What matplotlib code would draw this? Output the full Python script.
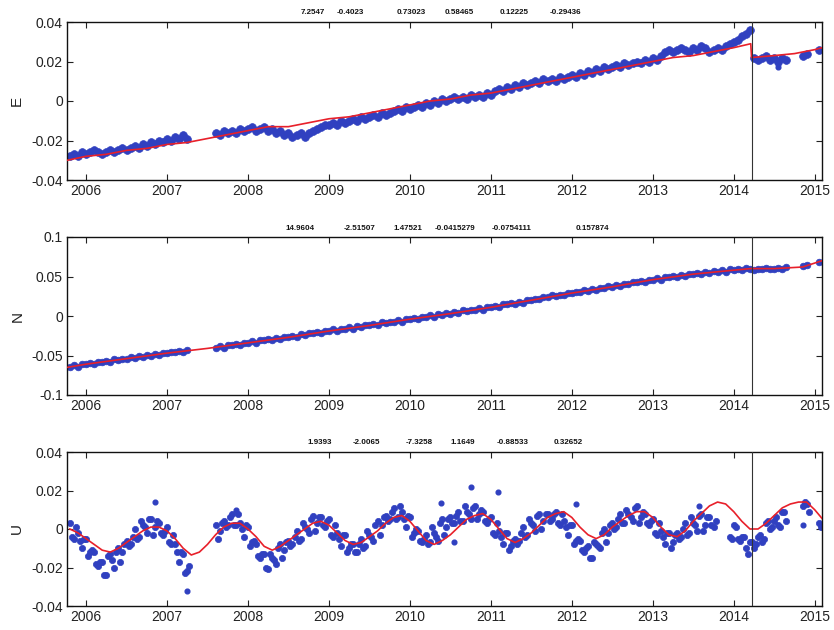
import numpy as np
import matplotlib
matplotlib.use("Agg")
import matplotlib.pyplot as plt
from matplotlib.ticker import FuncFormatter

nan = np.nan

# ---------------- data ----------------
obs_start = 2005.80
obs_step = 0.05
up_b_start = 2005.825
jump_epoch = 2014.22
years = list(range(2006, 2016))

east_obs = [
    -0.028, -0.027, -0.028, -0.026, -0.027, -0.026, -0.025, -0.026, -0.027, -0.026,
    -0.025, -0.026, -0.025, -0.024, -0.025, -0.024, -0.023, -0.024, -0.022, -0.023,
    -0.021, -0.022, -0.020, -0.021, -0.019, -0.020, -0.018, -0.019, -0.017, -0.019,
    nan, nan, nan, nan, nan, nan, -0.016, -0.017, -0.015, -0.016,
    -0.015, -0.016, -0.014, -0.015, -0.014, -0.013, -0.015, -0.014, -0.013, -0.015,
    -0.014, -0.016, -0.015, -0.017, -0.016, -0.018, -0.017, -0.016, -0.018, -0.016,
    -0.015, -0.014, -0.013, -0.012, -0.012, -0.011, -0.012, -0.010, -0.011, -0.010,
    -0.009, -0.010, -0.008, -0.009, -0.008, -0.007, -0.008, -0.006, -0.007, -0.006,
    -0.005, -0.004, -0.005, -0.003, -0.004, -0.003, -0.002, -0.003, -0.001, -0.002,
    0.000, -0.001, 0.001, 0.000, 0.001, 0.002, 0.001, 0.002, 0.001, 0.003,
    0.002, 0.003, 0.002, 0.004, 0.003, 0.005, 0.006, 0.005, 0.007, 0.006,
    0.008, 0.007, 0.009, 0.008, 0.009, 0.010, 0.009, 0.011, 0.010, 0.011,
    0.010, 0.012, 0.011, 0.012, 0.013, 0.012, 0.014, 0.013, 0.015, 0.014,
    0.016, 0.015, 0.017, 0.016, 0.017, 0.018, 0.017, 0.019, 0.018, 0.019,
    0.020, 0.019, 0.021, 0.020, 0.022, 0.021, 0.023, 0.025, 0.026, 0.025,
    0.026, 0.027, 0.026, 0.025, 0.027, 0.026, 0.028, 0.027, 0.025, 0.026,
    0.027, 0.026, 0.028, 0.029, 0.030, 0.031, 0.033, 0.034, 0.036, 0.022,
    0.021, 0.022, 0.023, 0.021, 0.022, 0.020, 0.022, 0.021, nan, nan,
    nan, 0.023, 0.024, nan, nan, 0.026,
]

north_obs = [
    -0.064, -0.062, -0.064, -0.061, -0.061, -0.059, -0.061, -0.058, -0.058, -0.057,
    -0.058, -0.055, -0.056, -0.054, -0.054, -0.052, -0.053, -0.051, -0.052, -0.049,
    -0.050, -0.048, -0.049, -0.047, -0.047, -0.045, -0.046, -0.044, -0.045, -0.043,
    nan, nan, nan, nan, nan, nan, -0.040, -0.038, -0.040, -0.037,
    -0.037, -0.035, -0.037, -0.034, -0.034, -0.032, -0.034, -0.031, -0.031, -0.029,
    -0.031, -0.028, -0.029, -0.026, -0.027, -0.025, -0.026, -0.023, -0.024, -0.022,
    -0.022, -0.020, -0.022, -0.019, -0.019, -0.017, -0.019, -0.016, -0.016, -0.014,
    -0.016, -0.013, -0.014, -0.011, -0.012, -0.010, -0.011, -0.008, -0.009, -0.007,
    -0.007, -0.005, -0.007, -0.004, -0.004, -0.002, -0.004, -0.001, -0.001, 0.001,
    -0.001, 0.002, 0.001, 0.004, 0.003, 0.005, 0.004, 0.007, 0.006, 0.008,
    0.008, 0.010, 0.008, 0.011, 0.011, 0.013, 0.012, 0.015, 0.015, 0.017,
    0.015, 0.018, 0.017, 0.020, 0.020, 0.022, 0.021, 0.024, 0.024, 0.026,
    0.025, 0.027, 0.026, 0.029, 0.029, 0.031, 0.030, 0.033, 0.032, 0.034,
    0.033, 0.036, 0.035, 0.038, 0.037, 0.039, 0.038, 0.041, 0.041, 0.043,
    0.043, 0.044, 0.043, 0.046, 0.046, 0.048, 0.046, 0.049, 0.049, 0.051,
    0.049, 0.052, 0.051, 0.053, 0.053, 0.055, 0.053, 0.056, 0.055, 0.057,
    0.056, 0.058, 0.056, 0.059, 0.058, 0.060, 0.058, 0.061, 0.060, 0.058,
    0.060, 0.059, 0.061, 0.060, 0.059, 0.061, 0.060, 0.062, nan, nan,
    nan, 0.063, 0.064, nan, nan, 0.068,
]

up_obs = [
    0.003, -0.005, -0.002, -0.010, -0.005, -0.012, -0.012, -0.019, -0.017, -0.024,
    -0.013, -0.020, -0.010, -0.012, -0.006, -0.008, 0.000, -0.004, 0.002, -0.002,
    0.005, 0.001, 0.003, -0.003, 0.001, -0.008, -0.008, -0.017, -0.013, -0.022,
    nan, nan, nan, nan, nan, nan, 0.002, -0.001, 0.004, 0.002,
    0.008, 0.002, 0.003, -0.004, 0.001, -0.007, -0.008, -0.015, -0.013, -0.021,
    -0.015, -0.018, -0.008, -0.011, -0.006, -0.008, -0.001, -0.005, 0.001, -0.002,
    0.007, 0.003, 0.006, 0.001, 0.005, -0.004, -0.002, -0.009, -0.003, -0.010,
    -0.008, -0.012, -0.005, -0.009, -0.003, -0.006, 0.004, 0.002, 0.007, 0.005,
    0.011, 0.006, 0.009, 0.001, 0.006, -0.002, -0.001, -0.007, -0.003, -0.007,
    -0.002, -0.006, 0.005, 0.001, 0.006, 0.003, 0.009, 0.004, 0.009, 0.005,
    0.012, 0.008, 0.009, 0.003, 0.006, -0.003, -0.001, -0.008, -0.002, -0.009,
    -0.005, -0.006, 0.001, -0.003, 0.003, -0.001, 0.008, 0.004, 0.008, 0.005,
    0.009, 0.002, 0.004, -0.003, 0.002, -0.006, -0.006, -0.012, -0.009, -0.015,
    -0.008, -0.010, 0.000, -0.002, 0.003, 0.001, 0.008, 0.003, 0.008, 0.004,
    0.012, 0.006, 0.008, 0.002, 0.005, -0.003, -0.001, -0.008, -0.002, -0.007,
    -0.002, -0.004, 0.003, -0.002, 0.003, -0.001, 0.008, 0.002, 0.006, 0.001,
    nan, nan, nan, -0.004, 0.002, -0.005, -0.004, -0.010, -0.007, -0.010,
    -0.004, -0.007, 0.003, 0.000, 0.004, 0.002, 0.009, 0.004, nan, nan,
    nan, 0.012, 0.013, nan, nan, 0.003,
]

# second set of Up observations, sampled half a step later
up_obs_b = [
    -0.004, 0.001, -0.006, -0.005, -0.014, -0.011, -0.018, -0.017, -0.024, -0.014,
    -0.016, -0.012, -0.017, -0.008, -0.009, -0.004, -0.005, 0.004, 0.001, 0.005,
    -0.003, 0.004, -0.002, -0.001, -0.007, -0.003, -0.012, -0.012, -0.023, -0.019,
    nan, nan, nan, nan, nan, nan, -0.005, 0.003, 0.001, 0.006,
    0.002, 0.008, 0.000, 0.002, -0.009, -0.006, -0.014, -0.013, -0.020, -0.013,
    -0.016, -0.010, -0.015, -0.007, -0.009, -0.004, -0.006, 0.003, 0.000, 0.005,
    -0.001, 0.006, 0.002, 0.004, -0.003, 0.002, -0.005, -0.003, -0.012, -0.008,
    -0.012, -0.008, -0.010, -0.001, -0.004, 0.002, -0.003, 0.006, 0.004, 0.009,
    0.005, 0.012, 0.005, 0.007, -0.004, 0.000, -0.006, -0.005, -0.008, 0.001,
    -0.004, 0.003, -0.003, 0.005, 0.003, 0.007, 0.004, 0.012, 0.008, 0.011,
    0.005, 0.010, 0.004, 0.005, -0.002, 0.003, -0.004, -0.002, -0.011, -0.006,
    -0.008, -0.002, -0.004, 0.005, 0.002, 0.007, 0.000, 0.008, 0.004, 0.008,
    0.003, 0.008, 0.001, 0.002, -0.008, -0.005, -0.011, -0.010, -0.015, -0.007,
    -0.009, -0.002, -0.007, 0.002, 0.000, 0.005, 0.003, 0.010, 0.006, 0.011,
    0.003, 0.009, 0.003, 0.004, -0.002, 0.003, -0.004, -0.002, -0.010, -0.003,
    -0.005, 0.000, -0.003, 0.006, 0.002, 0.007, -0.001, 0.006, 0.002, 0.004,
    nan, nan, nan, -0.005, 0.001, -0.006, -0.004, -0.013, -0.007, -0.008,
    -0.003, -0.005, 0.004, 0.001, 0.006, 0.001, 0.009, nan, nan, nan,
    nan, 0.014, 0.009, nan, nan, 0.001,
]

east_outlier_t = [2014.55]
east_outlier_v = [0.017]
up_outlier_t = [2006.85, 2007.25, 2007.85, 2010.38, 2010.54, 2010.75, 2011.09, 2012.05, 2013.57, 2014.86]
up_outlier_v = [0.014, -0.032, 0.010, 0.0135, -0.007, 0.022, 0.019, 0.013, 0.012, 0.002]

east_fit_t = [2005.77, 2006.0, 2006.25, 2006.5, 2006.75, 2007.0, 2007.25, 2007.5, 2007.75, 2008.0,
              2008.25, 2008.5, 2008.75, 2009.0, 2009.25, 2009.5, 2009.75, 2010.0, 2010.25, 2010.5,
              2010.75, 2011.0, 2011.25, 2011.5, 2011.75, 2012.0, 2012.25, 2012.5, 2012.75, 2013.0,
              2013.25, 2013.5, 2013.75, 2014.0, 2014.21, 2014.22, 2014.5, 2014.75, 2015.0, 2015.09]
east_fit_v = [-0.030, -0.028, -0.027, -0.025, -0.024, -0.022, -0.021, -0.019, -0.017, -0.015,
              -0.013, -0.013, -0.011, -0.009, -0.008, -0.006, -0.004, -0.002, 0.000, 0.001,
              0.003, 0.004, 0.006, 0.008, 0.010, 0.012, 0.014, 0.016, 0.018, 0.020,
              0.022, 0.023, 0.025, 0.027, 0.029, 0.022, 0.023, 0.024, 0.026, 0.027]

north_fit_t = [2005.77, 2006.0, 2006.5, 2007.0, 2007.5, 2008.0, 2008.5, 2009.0, 2009.5, 2010.0,
               2010.5, 2011.0, 2011.5, 2012.0, 2012.5, 2013.0, 2013.5, 2014.0, 2014.21, 2014.5,
               2014.85, 2015.09]
north_fit_v = [-0.065, -0.061, -0.054, -0.047, -0.041, -0.034, -0.027, -0.019, -0.012, -0.004,
               0.003, 0.011, 0.020, 0.029, 0.037, 0.046, 0.053, 0.058, 0.060, 0.060,
               0.062, 0.070]

up_fit_start = 2005.8
up_fit_step = 0.1
up_fit_v = [
    0.000, -0.002,
    -0.005, -0.008, -0.011, -0.012, -0.010, -0.007, -0.004, -0.001, 0.001, 0.001,
    -0.001, -0.005, -0.010, -0.0135, -0.012, -0.008, -0.003, 0.001, 0.003, 0.003,
    0.000, -0.004, -0.009, -0.011, -0.009, -0.006, -0.003, 0.000, 0.003, 0.004,
    0.002, -0.002, -0.006, -0.008, -0.007, -0.004, -0.001, 0.003, 0.006, 0.007,
    0.004, -0.001, -0.006, -0.008, -0.006, -0.003, 0.001, 0.005, 0.007, 0.008,
    0.005, 0.000, -0.005, -0.007, -0.005, -0.002, 0.002, 0.006, 0.008, 0.009,
    0.006, 0.001, -0.003, -0.005, -0.003, 0.001, 0.004, 0.007, 0.009, 0.009,
    0.006, 0.001, -0.003, -0.004, -0.001, 0.004, 0.008, 0.012, 0.014, 0.013,
    0.009, 0.004, 0.000, 0.000, 0.003, 0.007, 0.011, 0.013, 0.014, 0.014,
    0.010, 0.005,
]

panel_labels = ["E", "N", "U"]
panel_ylims = [(-0.04, 0.04), (-0.1, 0.1), (-0.04, 0.04)]
panel_yticks = [[-0.04, -0.02, 0, 0.02, 0.04], [-0.1, -0.05, 0, 0.05, 0.1], [-0.04, -0.02, 0, 0.02, 0.04]]
panel_params = [
    ["7.2547", "-0.4023", "0.73023", "0.58465", "0.12225", "-0.29436"],
    ["14.9604", "-2.51507", "1.47521", "-0.0415279", "-0.0754111", "0.157874"],
    ["1.9393", "-2.0065", "-7.3258", "1.1649", "-0.88533", "0.32652"],
]
param_x_px = [
    [313, 350, 411, 459, 514, 566],
    [300, 360, 408, 455, 512, 592],
    [320, 366, 419, 463, 513, 568],
]

# ---------------- plot ----------------
W, H = 834, 630
fig = plt.figure(figsize=(W / 100, H / 100), dpi=100)
plt.rcParams['font.family'] = ['Liberation Sans', 'DejaVu Sans']

axes_px = [(22, 180), (237, 395), (452, 606)]
left_px, right_px = 67, 822
blue = '#3040c0'
red = '#e8202a'

obs_series = [[(obs_start, east_obs)],
              [(obs_start, north_obs)],
              [(obs_start, up_obs), (up_b_start, up_obs_b)]]
fits = [
    (east_fit_t, east_fit_v),
    (north_fit_t, north_fit_v),
    (list(up_fit_start + up_fit_step * np.arange(len(up_fit_v))), up_fit_v),
]
outliers = [(east_outlier_t, east_outlier_v), ([], []), (up_outlier_t, up_outlier_v)]
marker_sizes = [5.6, 4.8, 4.5]

for k in range(3):
    top, bot = axes_px[k]
    ax = fig.add_axes([left_px / W, 1 - bot / H, (right_px - left_px) / W, (bot - top) / H])
    for t0, series in obs_series[k]:
        vals = np.array(series, dtype=float)
        t = t0 + obs_step * np.arange(len(vals))
        ax.plot(t, vals, 'o', color=blue, ms=marker_sizes[k], mec=blue, mew=0.5, zorder=2)
    ot, ov = outliers[k]
    if ot:
        ax.plot(ot, ov, 'o', color=blue, ms=3.4, mec=blue, zorder=2)
    ft, fv = fits[k]
    ax.plot(ft, fv, '-', color=red, lw=1.2, zorder=3)
    ax.axvline(jump_epoch, color='#333333', lw=0.8, zorder=4)

    ax.set_xlim(2005.765, 2015.09)
    ax.set_ylim(*panel_ylims[k])
    ax.set_xticks(years)
    ax.set_xticklabels([str(y) for y in years])
    ax.set_yticks(panel_yticks[k])
    ax.yaxis.set_major_formatter(FuncFormatter(lambda v, p: '%g' % round(v, 4)))
    ax.tick_params(direction='in', top=True, right=True, length=4, width=0.8,
                   labelsize=10, colors='#222222', pad=3)
    for s in ax.spines.values():
        s.set_linewidth(1.0)
        s.set_color('#111111')
    ax.set_ylabel(panel_labels[k], fontsize=11, color='#222222', labelpad=5)

    for lab, xp in zip(panel_params[k], param_x_px[k]):
        fig.text(xp / W, 1 - (top - 9) / H, lab, fontsize=5.8, ha='center', va='center',
                 color='#111111', fontweight='bold')

fig.savefig('out.png', dpi=100)
